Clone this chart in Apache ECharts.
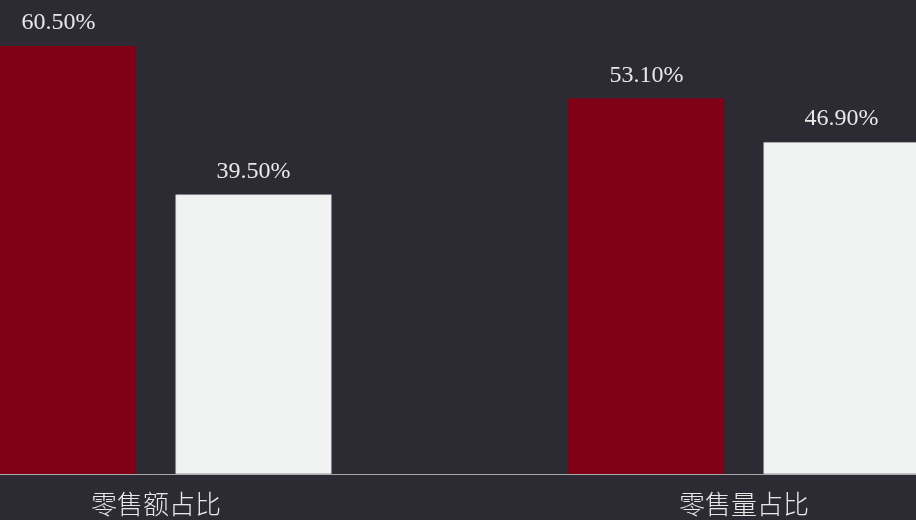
<!DOCTYPE html>
<html>
<head>
<meta charset="utf-8">
<script src="https://cdn.jsdelivr.net/npm/echarts@6/dist/echarts.min.js"></script>
<style>
  html, body { margin: 0; padding: 0; background: #2c2b33; overflow: hidden; }
  /* the plot is wider than the window: the outer bars run off both edges */
  #main { width: 1176px; height: 520px; margin-left: -138px; }
</style>
</head>
<body>
<div id="main"></div>
<script>
var categories = ['零售额占比', '零售量占比'];
var seriesRed = [60.5, 53.1];
var seriesWhite = [39.5, 46.9];

var labelFont = '"Liberation Serif", "Noto Sans CJK SC", serif';

function barLabel() {
    return {
        show: true,
        position: 'top',
        distance: 11,
        color: '#e8e8e8',
        fontSize: 24,
        fontFamily: labelFont,
        formatter: function (p) { return p.value.toFixed(2) + '%'; }
    };
}

var myChart = echarts.init(document.getElementById('main'));
myChart.setOption({
    backgroundColor: '#2c2b33',
    animation: false,
    grid: { left: 0, right: 0, top: 0, bottom: 46, containLabel: false },
    xAxis: {
        type: 'category',
        data: categories,
        axisLine: { show: true, lineStyle: { color: '#a8a8a8', width: 1 } },
        axisTick: { show: false },
        axisLabel: {
            color: '#e8e8e8',
            fontSize: 26,
            fontWeight: 300,
            margin: 17,
            fontFamily: '"Noto Sans CJK SC", sans-serif'
        }
    },
    yAxis: {
        type: 'value',
        min: 0,
        max: 67,
        show: false,
        splitLine: { show: false }
    },
    series: [
        {
            name: 'A',
            type: 'bar',
            data: seriesRed,
            barWidth: 156,
            barGap: '25%',
            itemStyle: { color: '#800015' },
            label: barLabel()
        },
        {
            name: 'B',
            type: 'bar',
            data: seriesWhite,
            barWidth: 156,
            itemStyle: { color: '#f1f2f2', borderColor: '#c8c8c8', borderWidth: 0.5 },
            label: barLabel()
        }
    ]
});
</script>
</body>
</html>
